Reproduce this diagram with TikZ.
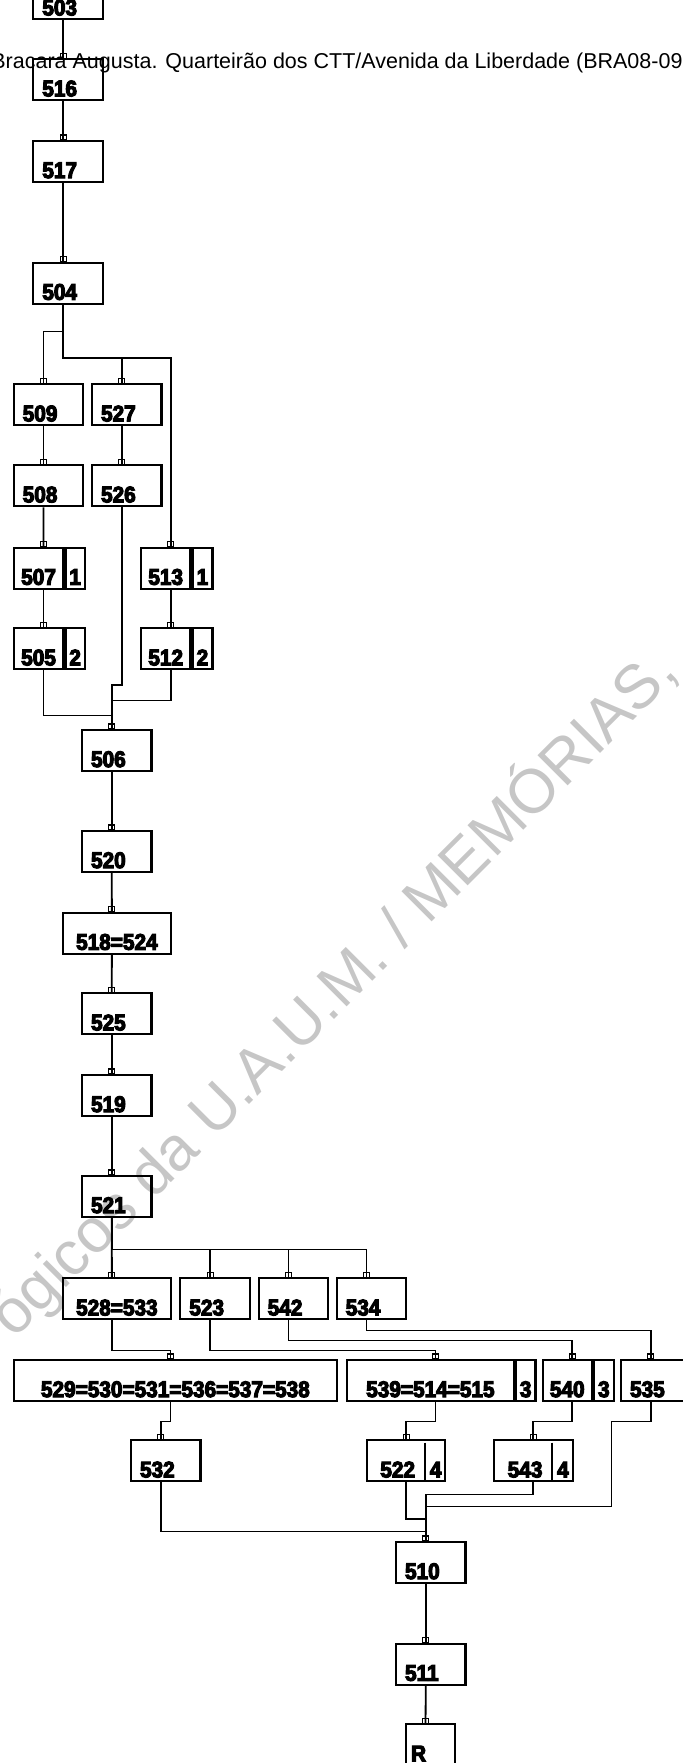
\documentclass[tikz,border=0pt]{standalone}
\usepackage{fontspec}
\setmainfont{Liberation Sans}
\newfontfamily\boxfont{Liberation Sans}[UprightFont={* Bold}, FakeBold=5, FakeStretch=0.92]
\usetikzlibrary{positioning}
\definecolor{StampGray}{HTML}{C6C6C6}

\begin{document}
\begin{tikzpicture}[x=0.5pt, y=-0.5pt,
        box/.style={rectangle, draw, line width=1.05pt, anchor=north west, inner xsep=4.5pt, inner ysep=0pt, minimum height=20.5pt, text height=18.5pt, text depth=2pt, text width=#1, align=left, font=\boxfont\fontsize{11.3}{12}\selectfont},
        box/.default=25.7pt,
        mid/.style={box=#1, inner xsep=1pt, align=center},
        tag/.style={rectangle, draw, line width=1.05pt, inner sep=0pt, minimum width=#1, minimum height=20.5pt, text height=18.5pt, text depth=2pt, font=\boxfont\fontsize{11.3}{12}\selectfont},
        wire/.style={draw, line width=0.9pt},
        tap/.style={xshift=-2.5pt},
        tagtap/.style={xshift=2.5pt},
        stamp/.style={font=\fontsize{31}{31}\selectfont, text=StampGray, rotate=45, anchor=base west, inner sep=0pt},
        headline/.style={font=\fontsize{10.75}{12}\selectfont, anchor=base west, inner sep=0pt}]

    \useasboundingbox (0,0) rectangle (683,1763);
    \node[stamp] (stamp) at (14,1340) {ógicos da U.A.U.M. / MEMÓRIAS,};

    \node[box] (n503) at (32.3,-22.7) {503};
    \node[box] (n516) at (32.3,58.3) {516};
    \node[box] (n517) at (32.3,140) {517};
    \node[box] (n504) at (32.3,261.7) {504};

    \node[box] (n509) at (12.7,383.3) {509};
    \node[box] (n527) at (91,383.3) {527};
    \node[box] (n508) at (12.7,464.3) {508};
    \node[box] (n526) at (91,464.3) {526};
    \node[mid=22.8pt] (n507) at (12.7,546.7) {507};
    \node[tag=9.7pt, right=0pt of n507] (n507t) {1};
    \node[mid=22.65pt] (n513) at (140,546.7) {513};
    \node[tag=10pt, right=0pt of n513] (n513t) {1};
    \node[mid=22.8pt] (n505) at (12.7,627.3) {505};
    \node[tag=9.7pt, right=0pt of n505] (n505t) {2};
    \node[mid=22.65pt] (n512) at (140,627.3) {512};
    \node[tag=10pt, right=0pt of n512] (n512t) {2};

    \node[box] (n506) at (81,729) {506};
    \node[box] (n520) at (81,830) {520};
    \node[mid=52.15pt] (n518) at (61.7,911.7) {518=524};
    \node[box] (n525) at (81,992.3) {525};
    \node[box] (n519) at (81,1074) {519};
    \node[box] (n521) at (81,1175) {521};

    \node[mid=52.15pt] (n528) at (61.7,1277.3) {528=533};
    \node[box] (n523) at (179.3,1277.3) {523};
    \node[box] (n542) at (257.7,1277.3) {542};
    \node[box] (n534) at (335.7,1277.3) {534};

    \node[mid=159.65pt] (n529) at (12.7,1359) {529=530=531=536=537=538};
    \node[mid=81.35pt] (n539) at (346,1359) {539=514=515};
    \node[tag=9.8pt, right=0pt of n539] (n539t) {3};
    \node[mid=22.5pt] (n540) at (541.7,1359) {540};
    \node[tag=10pt, right=0pt of n540] (n540t) {3};
    \node[box] (n535) at (620,1359) {535};

    \node[box] (n532) at (130,1439.3) {532};
    \node[box, inner xsep=6.8pt] (n522) at (365.7,1439.3) {522};
    \node[tag=9.65pt, draw=none, anchor=east] (n522t) at (n522.east) {4};
    \node[box=25.5pt, inner xsep=7pt] (n543) at (492.7,1439.3) {543};
    \node[tag=9.75pt, draw=none, anchor=east] (n543t) at (n543.east) {4};
    \draw[line width=0.9pt] ([yshift=-1.65pt]n522t.north west) -- ([yshift=1.15pt]n522t.south west);
    \draw[line width=0.9pt] ([yshift=-1.65pt]n543t.north west) -- ([yshift=1.15pt]n543t.south west);

    \node[box] (n510) at (395,1541) {510};
    \node[box] (n511) at (395,1642.7) {511};
    \node[box=19.5pt, inner xsep=2.5pt] (nR) at (405,1723.3) {R};

    \node[headline] (head) at (-9,68.3) {Bracara Augusta. Quarteirão dos CTT/Avenida da Liberdade (BRA08-09};

    \draw[wire] ([tap]n503.south) -- ([tap]n516.north);
    \draw[wire] ([tap]n516.south) -- ([tap]n517.north);
    \draw[wire] ([tap]n517.south) -- ([tap]n504.north);
    \draw[wire] ([tap]n504.south) -- ++(0,26.6) -| ([tap]n509.north);
    \draw[wire] ([tap]n504.south) -- ++(0,53.3) coordinate (j504) -| ([tagtap]n513.north);
    \draw[wire] (j504) -| ([tap]n527.north);
    \draw[wire] ([tap]n509.south) -- ([tap]n508.north);
    \draw[wire] ([tap]n508.south) -- ([tagtap]n507.north);
    \draw[wire] ([tagtap]n507.south) -- ([tagtap]n505.north);
    \draw[wire] ([tap]n527.south) -- ([tap]n526.north);
    \draw[wire] ([tagtap]n513.south) -- ([tagtap]n512.north);
    \draw[wire] ([tagtap]n505.south) -- ++(0,45) -| ([tap]n506.north);
    \draw[wire] ([tap]n526.south) -- ++(0,177.4) -| ([tap]n506.north);
    \draw[wire] ([tagtap]n512.south) -- ++(0,30) -| ([tap]n506.north);
    \draw[wire] ([tap]n506.south) -- ([tap]n520.north);
    \draw[wire] ([tap]n520.south) -- ([tap]n518.north);
    \draw[wire] ([tap]n518.south) -- ([tap]n525.north);
    \draw[wire] ([tap]n525.south) -- ([tap]n519.north);
    \draw[wire] ([tap]n519.south) -- ([tap]n521.north);
    \draw[wire] ([tap]n521.south) -- ([tap]n528.north);
    \draw[wire] ([tap]n521.south) -- ++(0,31.3) coordinate (j521) -| ([tap]n534.north);
    \draw[wire] (j521) -| ([tap]n523.north);
    \draw[wire] (j521) -| ([tap]n542.north);
    \draw[wire] ([tap]n528.south) -- ++(0,30) -| ([tap]n529.north);
    \draw[wire] ([tap]n523.south) -- ++(0,30) -| ([tagtap]n539.north);
    \draw[wire] ([tap]n542.south) -- ++(0,20) -| ([tagtap]n540.north);
    \draw[wire] ([tap]n534.south) -- ++(0,10) -| ([tap]n535.north);
    \draw[wire] ([tap]n529.south) -- ++(0,19.3) -| ([tap]n532.north);
    \draw[wire] ([tagtap]n539.south) -- ++(0,19.3) -| (n522.north);
    \draw[wire] ([tagtap]n540.south) -- ++(0,19.3) -| (n543.north);
    \draw[wire] ([tap]n535.south) -- ++(0,19.3) -- ++(-39.3,0) -- ++(0,85) -| ([tap]n510.north);
    \draw[wire] (n543.south) -- ++(0,12) -| ([tap]n510.north);
    \draw[wire] (n522.south) -- ++(0,36.4) -| ([tap]n510.north);
    \draw[wire] ([tap]n532.south) -- ++(0,49) -| ([tap]n510.north);
    \draw[wire] ([tap]n510.south) -- ([tap]n511.north);
    \draw[wire] ([tap]n511.south) -- ([tap]nR.north);

    \foreach \n/\s in {n516/-4pt, n517/-4pt, n504/-4pt, n509/-4pt, n527/-4pt, n508/-4pt, n526/-4pt,
            n506/-4pt, n520/-4pt, n518/-4pt, n525/-4pt, n519/-4pt, n521/-4pt, n528/-4pt, n523/-4pt,
            n542/-4pt, n534/-4pt, n529/-4pt, n535/-4pt, n532/-4pt, n510/-4pt, n511/-4pt, nR/-4pt,
            n507/1pt, n505/1pt, n513/1pt, n512/1pt, n539/1pt, n540/1pt, n522/-1.5pt, n543/-1.5pt}
        \draw[line width=0.55pt] ([xshift=\s]\n.north) rectangle ++(3pt,2.5pt);
\end{tikzpicture}
\end{document}
